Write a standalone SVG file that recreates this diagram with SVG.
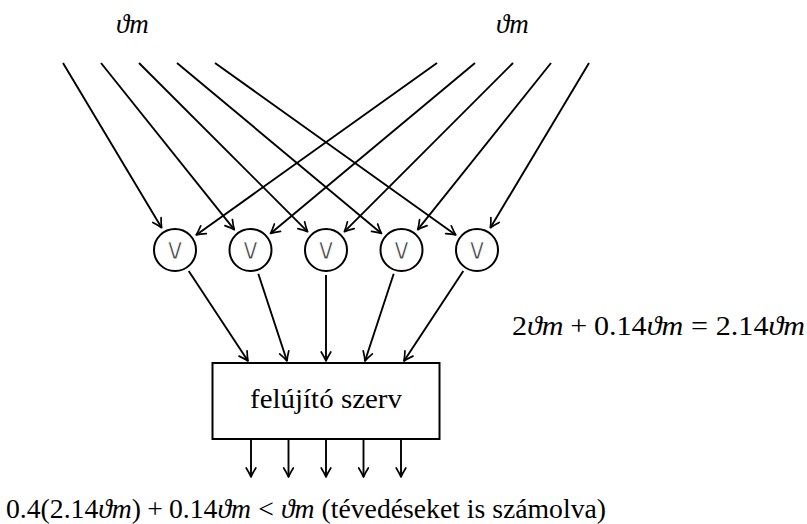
<svg xmlns="http://www.w3.org/2000/svg" width="807" height="524" viewBox="0 0 807 524">
<defs>
<marker id="arr" markerUnits="userSpaceOnUse" markerWidth="16" markerHeight="16" viewBox="-12 -8 16 16" refX="0" refY="0" orient="auto">
<path d="M-9,-4.8 Q-3.5,-1.4 0,0 Q-3.5,1.4 -9,4.8" fill="none" stroke="#000" stroke-width="1.7" stroke-linecap="round" stroke-linejoin="round"/>
</marker>
</defs>
<style>
.e{stroke:#000;stroke-width:1.9;fill:none;marker-end:url(#arr)}
.c{fill:#fff;stroke:#000;stroke-width:2}
.or{font-family:'DejaVu Sans',sans-serif;font-size:30px;fill:#444;stroke:#fff;stroke-width:1.1;text-anchor:middle}
.t{font-family:'Liberation Serif',serif;font-size:27px;fill:#000}
.i{font-style:italic}
</style>
<rect width="807" height="524" fill="#fff"/>
<g id="connectors">
<line class="e" x1="63" y1="63" x2="161.6" y2="227.7"/>
<line class="e" x1="101" y1="63" x2="234.3" y2="229.7"/>
<line class="e" x1="139" y1="63" x2="307.6" y2="231.6"/>
<line class="e" x1="177" y1="63" x2="381.5" y2="233.4"/>
<line class="e" x1="215" y1="63" x2="455.8" y2="234.9"/>
<line class="e" x1="437" y1="63" x2="196.2" y2="234.9"/>
<line class="e" x1="475" y1="63" x2="270.5" y2="233.4"/>
<line class="e" x1="513" y1="63" x2="344.4" y2="231.6"/>
<line class="e" x1="551" y1="63" x2="417.7" y2="229.7"/>
<line class="e" x1="589" y1="63" x2="490.4" y2="227.7"/>
<line class="e" x1="188.7" y1="270.9" x2="248" y2="361"/>
<line class="e" x1="258.3" y1="273.7" x2="287" y2="361"/>
<line class="e" x1="326" y1="275" x2="326" y2="361"/>
<line class="e" x1="393.7" y1="273.7" x2="365" y2="361"/>
<line class="e" x1="463.3" y1="270.9" x2="404" y2="361"/>
<line class="e" x1="251" y1="439" x2="251" y2="477"/>
<line class="e" x1="288.5" y1="439" x2="288.5" y2="477"/>
<line class="e" x1="326" y1="439" x2="326" y2="477"/>
<line class="e" x1="363.5" y1="439" x2="363.5" y2="477"/>
<line class="e" x1="401" y1="439" x2="401" y2="477"/>
</g>
<g id="in1"><text class="t i" x="116" y="33">ϑm</text></g>
<g id="in2"><text class="t i" x="496" y="33">ϑm</text></g>
<g id="or1"><circle class="c" cx="175" cy="250" r="21"/><text class="or" x="175" y="258.5">∨</text></g>
<g id="or2"><circle class="c" cx="250.5" cy="250" r="21"/><text class="or" x="250.5" y="258.5">∨</text></g>
<g id="or3"><circle class="c" cx="326" cy="250" r="21"/><text class="or" x="326" y="258.5">∨</text></g>
<g id="or4"><circle class="c" cx="401.5" cy="250" r="21"/><text class="or" x="401.5" y="258.5">∨</text></g>
<g id="or5"><circle class="c" cx="477" cy="250" r="21"/><text class="or" x="477" y="258.5">∨</text></g>
<g id="box">
<rect x="212.5" y="363" width="227" height="76" fill="#fff" stroke="#000" stroke-width="2"/>
<text class="t" x="326" y="408" font-size="25" text-anchor="middle" textLength="152" lengthAdjust="spacingAndGlyphs">felújító szerv</text>
</g>
<g id="eq1">
<text class="t" x="512" y="335" textLength="293" lengthAdjust="spacingAndGlyphs">2<tspan class="i">ϑm</tspan><tspan dx="6">+</tspan><tspan dx="6">0.14</tspan><tspan class="i">ϑm</tspan><tspan dx="7">=</tspan><tspan dx="7">2.14</tspan><tspan class="i">ϑm</tspan></text>
</g>
<g id="eq2">
<text class="t" x="6" y="518" textLength="600" lengthAdjust="spacingAndGlyphs">0.4(2.14<tspan class="i">ϑm</tspan>)<tspan dx="6">+</tspan><tspan dx="6">0.14</tspan><tspan class="i">ϑm</tspan><tspan dx="7">&lt;</tspan><tspan class="i" dx="7">ϑm</tspan> (tévedéseket is számolva)</text>
</g>
</svg>
